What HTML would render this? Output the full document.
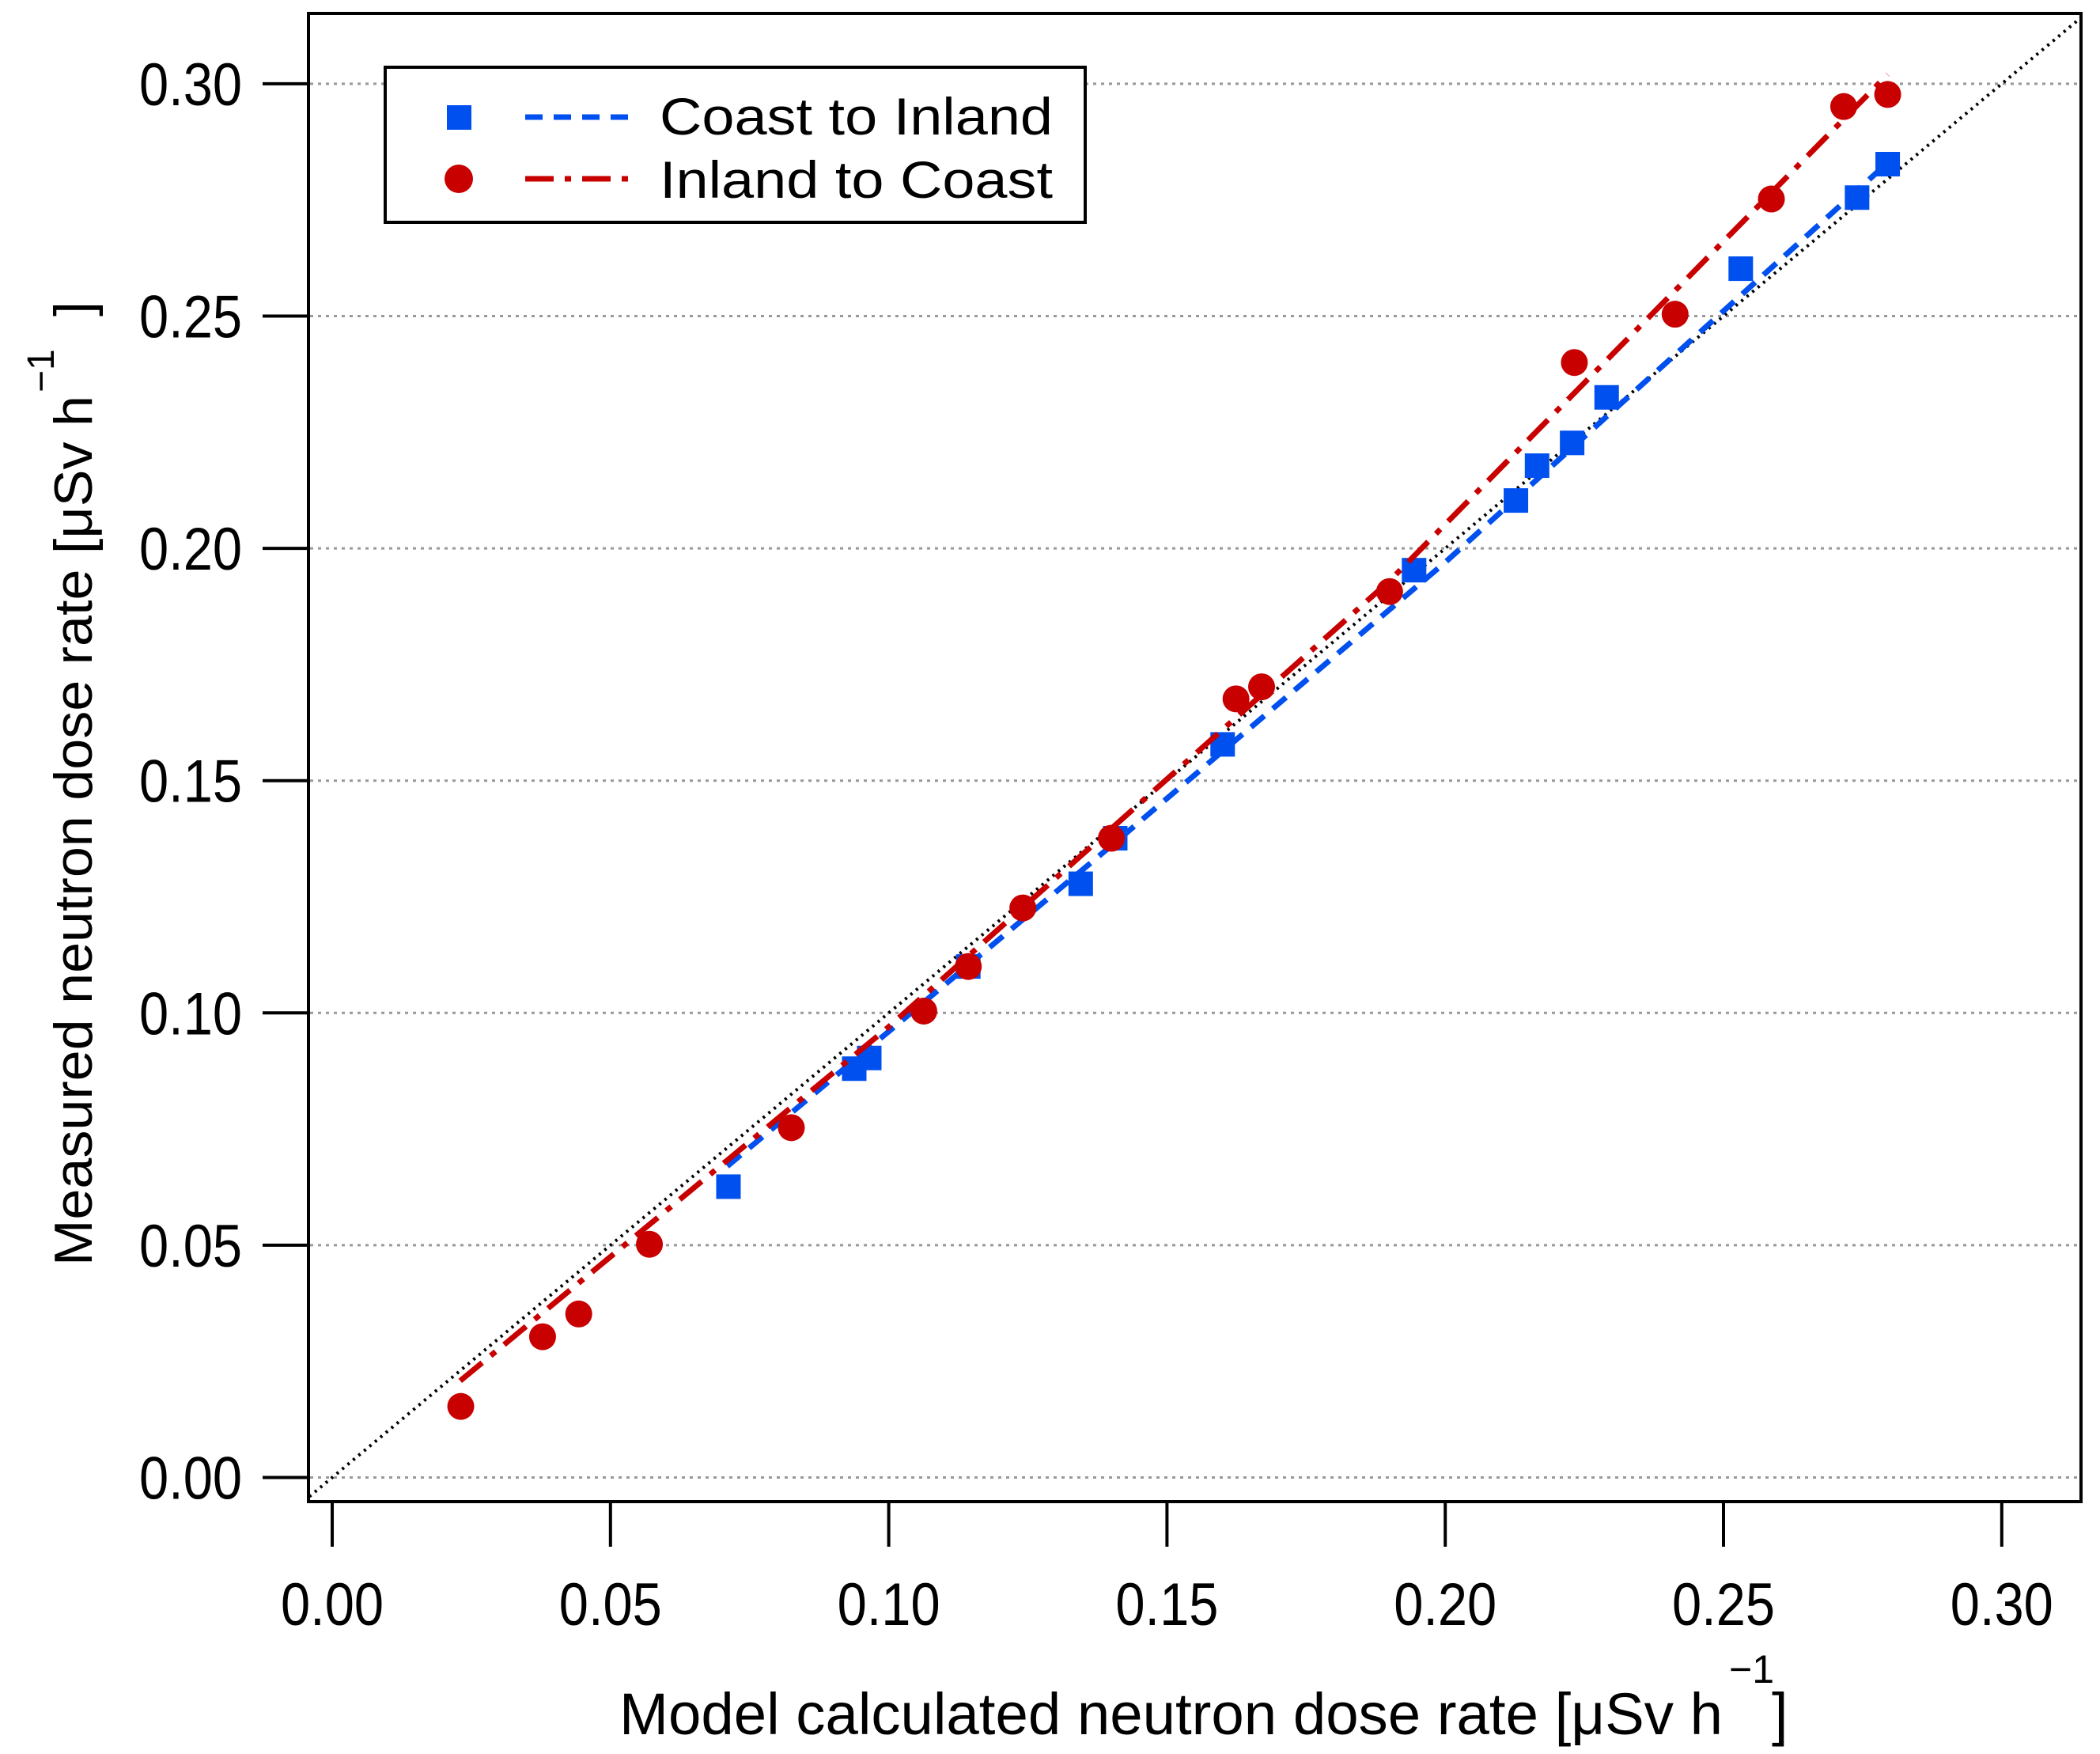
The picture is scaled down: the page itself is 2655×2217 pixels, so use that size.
<!DOCTYPE html>
<html><head><meta charset="utf-8"><style>
html,body{margin:0;padding:0;background:#fff}
svg{display:block}
text{font-family:"Liberation Sans",sans-serif;fill:#000}
</style></head><body>
<svg id="chart" width="2655" height="2217" viewBox="0 0 2655 2217" xmlns="http://www.w3.org/2000/svg">
<defs><clipPath id="plotclip"><rect x="390" y="17" width="2241" height="1881"/></clipPath></defs>
<g id="grid"></g>
<g id="marks" clip-path="url(#plotclip)"></g>
<rect x="390" y="17" width="2241" height="1881" fill="none" stroke="#000" stroke-width="4"/>
<g id="axes"></g>
<g>
<text x="783" y="2192" font-size="74" textLength="1395" lengthAdjust="spacingAndGlyphs">Model calculated neutron dose rate [μSv h</text>
<text x="2186" y="2127" font-size="50">−1</text>
<text x="2240" y="2192" font-size="74">]</text>
</g>
<g>
<text transform="translate(116,1600) rotate(-90)" font-size="68" textLength="1100" lengthAdjust="spacingAndGlyphs">Measured neutron dose rate [μSv h</text>
<text transform="translate(68,496) rotate(-90)" font-size="48">−1</text>
<text transform="translate(116,400) rotate(-90)" font-size="68">]</text>
</g>
<g>
<rect x="487" y="85" width="885" height="196" fill="#fff" stroke="#000" stroke-width="4"/>
<rect x="565" y="133" width="31" height="31" fill="#0050f0"/>
<line x1="664" y1="148" x2="797" y2="148" stroke="#0050f0" stroke-width="7" stroke-dasharray="22,14"/>
<text x="834" y="170" font-size="66" textLength="497" lengthAdjust="spacingAndGlyphs">Coast to Inland</text>
<circle cx="580" cy="226" r="18" fill="#c80000"/>
<line x1="664" y1="226" x2="797" y2="226" stroke="#c80000" stroke-width="7" stroke-dasharray="36,14,8,14"/>
<text x="834" y="250" font-size="66" textLength="497" lengthAdjust="spacingAndGlyphs">Inland to Coast</text>
</g>
</svg>
<script>
const ticks = [0, 0.05, 0.10, 0.15, 0.20, 0.25, 0.30];
const tickLabels = ["0.00","0.05","0.10","0.15","0.20","0.25","0.30"];
const coastX = [0.0712,0.0938,0.0965,0.1143,0.1345,0.1407,0.160,0.1944,0.2127,0.2165,0.2228,0.229,0.2531,0.274,0.2795];
const coastY = [0.0626,0.088,0.0903,0.110,0.1278,0.1376,0.1578,0.1953,0.2103,0.2178,0.2227,0.2325,0.2602,0.2755,0.2827];
const inlandX = [0.0231,0.0378,0.0443,0.057,0.0825,0.1063,0.1143,0.1241,0.140,0.1624,0.167,0.190,0.2232,0.2413,0.2586,0.2716,0.2795];
const inlandY = [0.0153,0.0303,0.0352,0.0502,0.0753,0.1004,0.110,0.1226,0.1376,0.1676,0.1702,0.1907,0.240,0.2504,0.2752,0.2951,0.2977];
const coastFitX = [0.071,0.14,0.20,0.2795];
const coastFitY = [0.067,0.136,0.197,0.283];
const inlandFitX = [0.023,0.10,0.19,0.2795];
const inlandFitY = [0.0208,0.097,0.193,0.302];
const identityX = [-0.01, 0.32];

const NS = "http://www.w3.org/2000/svg";
function X(v){ return 420 + v * 7036; }
function Y(v){ return 1867.5 - v * 5872; }
function mk(tag, attrs, parent){
  const e = document.createElementNS(NS, tag);
  for (const k in attrs) e.setAttribute(k, attrs[k]);
  parent.appendChild(e);
  return e;
}
const grid = document.getElementById('grid');
const axes = document.getElementById('axes');
const marks = document.getElementById('marks');

ticks.forEach((t, i) => {
  const g = mk('line', {x1:392, x2:2629, y1:Y(t), y2:Y(t), stroke:'#999', 'stroke-width':3, 'stroke-dasharray':'4,6'}, grid);
  
  
  const yt = mk('line', {x1:332, x2:390, y1:Y(t), y2:Y(t), stroke:'#000', 'stroke-width':4}, axes);
  
  
  const yl = mk('text', {x:306, y:Y(t)+27, 'font-size':76, 'text-anchor':'end', textLength:130, lengthAdjust:'spacingAndGlyphs'}, axes);
  yl.textContent = tickLabels[i];
  
  
  const xt = mk('line', {x1:X(t), x2:X(t), y1:1898, y2:1955, stroke:'#000', 'stroke-width':4}, axes);
  
  
  const xl = mk('text', {x:X(t)-65, y:2054, 'font-size':76, textLength:130, lengthAdjust:'spacingAndGlyphs'}, axes);
  xl.textContent = tickLabels[i];
  
  
});

const idl = mk('line', {x1:X(identityX[0]), y1:Y(identityX[0]), x2:X(identityX[1]), y2:Y(identityX[1]), stroke:'#000', 'stroke-width':4, 'stroke-dasharray':'3,6'}, marks);



function pts(xs, ys){ return xs.map((x,i)=>X(x)+','+Y(ys[i])).join(' '); }
const bf = mk('polyline', {points:pts(coastFitX, coastFitY), fill:'none', stroke:'#0050f0', 'stroke-width':7, 'stroke-dasharray':'22,14'}, marks);



coastX.forEach((x, i) => {
  const r = mk('rect', {x:X(x)-15.5, y:Y(coastY[i])-15.5, width:31, height:31, fill:'#0050f0'}, marks);
  
  
});
inlandX.forEach((x, i) => {
  const c = mk('circle', {cx:X(x), cy:Y(inlandY[i]), r:17, fill:'#c80000'}, marks);
  
  
});
const rf = mk('polyline', {points:pts(inlandFitX, inlandFitY), fill:'none', stroke:'#c80000', 'stroke-width':7, 'stroke-dasharray':'36,14,8,14'}, marks);


</script>
</body></html>
